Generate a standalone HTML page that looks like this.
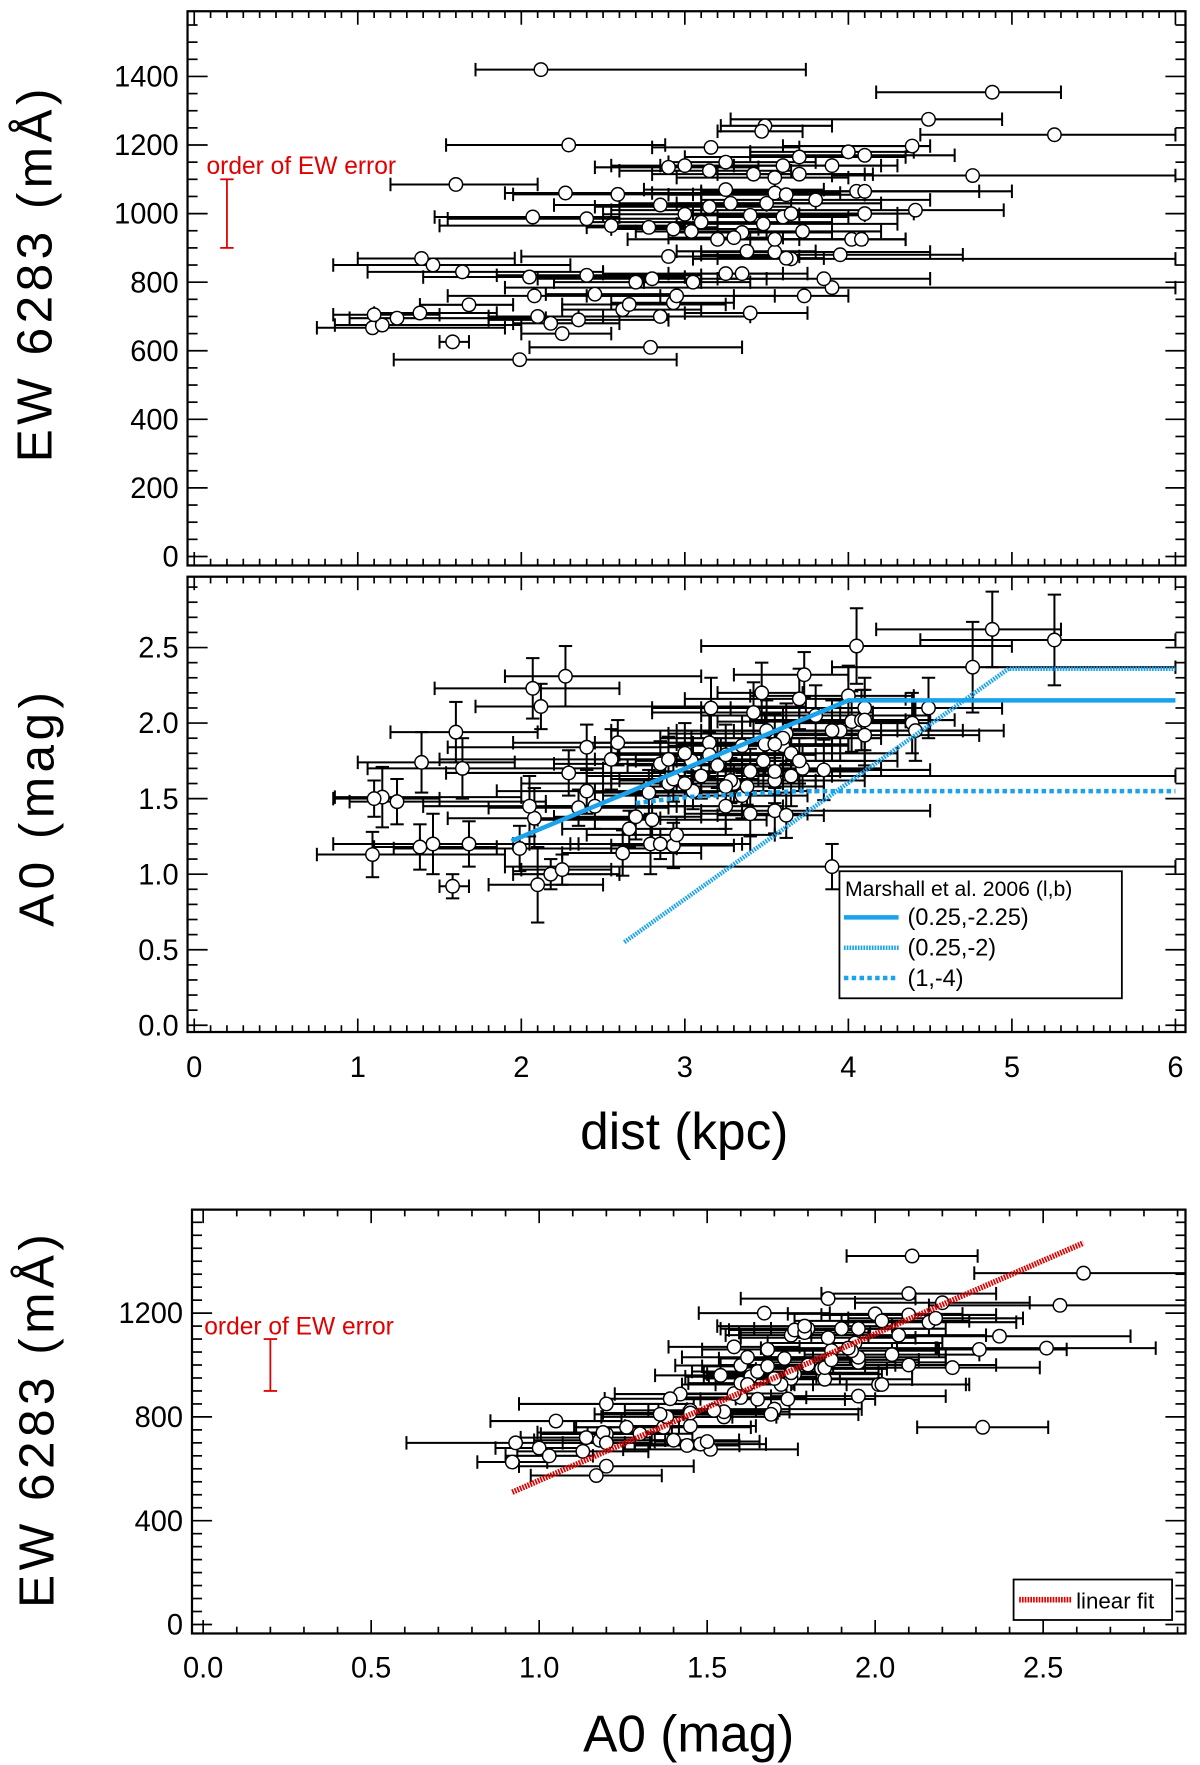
<!DOCTYPE html>
<html><head><meta charset="utf-8">
<style>
html,body{margin:0;padding:0;background:#fff;}
svg{display:block;}
text{font-family:"Liberation Sans",sans-serif;}
</style></head>
<body>
<svg id="fig" xmlns="http://www.w3.org/2000/svg" width="1200" height="1765" viewBox="0 0 1075 1570" preserveAspectRatio="none">
<rect x="0" y="0" width="1075" height="1570" fill="#fff"/>
<defs>
<clipPath id="cT"><rect x="168" y="10" width="894" height="493"/></clipPath>
<clipPath id="cM"><rect x="168" y="513" width="894" height="405"/></clipPath>
<clipPath id="cB"><rect x="172" y="1076" width="890" height="377"/></clipPath>
</defs>
<g id="topPanel"></g>
<g id="midPanel"></g>
<g id="botPanel"></g>
<text x="0" y="0" font-size="44" letter-spacing="4" text-anchor="middle" transform="translate(46,243) rotate(-90)">EW 6283 (mÅ)</text>
<text x="0" y="0" font-size="44" letter-spacing="4" text-anchor="middle" transform="translate(48,718) rotate(-90)">A0 (mag)</text>
<text x="613" y="1022" font-size="46" text-anchor="middle">dist (kpc)</text>
<text x="0" y="0" font-size="44" letter-spacing="4" text-anchor="middle" transform="translate(48,1262) rotate(-90)">EW 6283 (mÅ)</text>
<text x="617" y="1558" font-size="46" text-anchor="middle">A0 (mag)</text>
</svg>
<script>
const dist=[2.12,4.88,4.49,5.26,2.29,3.16,3.49,3.47,4.39,4.76,1.60,4.05,2.59,2.07,1.39,1.46,1.64,3.90,1.58,1.99,2.79,1.09,1.15,1.24,1.68,1.38,2.10,2.18,2.25,2.08,2.45,2.62,2.93,2.95,3.40,2.70,2.80,3.05,2.40,3.25,3.35,3.85,2.05,3.55,3.95,2.90,3.38,3.65,3.62,4.02,4.08,4.41,4.10,2.40,2.55,2.78,2.93,3.04,3.35,3.20,3.30,3.55,3.72,3.48,3.60,3.10,3.00,3.40,3.65,3.28,3.50,3.80,2.85,3.15,3.55,3.62,4.10,3.25,3.42,3.70,3.90,3.60,3.00,2.90,3.15,3.25,3.70,4.10,4.00,3.55,2.27,3.73,1.10,2.35,2.66,2.85];
const distLo=[1.72,4.17,3.28,4.44,1.54,2.80,3.22,3.20,3.60,3.90,1.20,3.10,1.95,1.47,1.00,0.85,1.06,1.90,1.50,1.22,2.05,0.75,0.86,0.95,1.38,1.10,1.80,1.95,2.00,1.55,2.15,2.25,2.55,2.40,3.00,2.20,2.10,2.75,1.85,2.90,2.50,3.20,1.40,3.10,3.10,2.00,2.95,3.05,3.20,3.20,3.40,2.55,3.10,1.55,1.50,2.40,2.55,2.70,2.90,2.65,2.90,3.20,3.20,2.95,3.20,2.40,2.50,3.00,3.05,2.60,2.95,3.10,2.20,2.45,2.80,2.90,3.55,2.75,2.80,3.20,3.30,2.85,2.55,2.45,2.60,2.90,3.00,3.40,3.40,2.95,1.90,3.30,0.85,1.80,2.25,2.35];
const distHi=[3.74,5.30,4.94,6.00,2.88,3.70,3.90,3.72,4.50,6.00,2.10,5.00,3.05,2.60,1.96,2.30,2.50,6.00,1.68,2.95,3.35,1.90,2.00,2.15,1.95,1.85,2.50,2.60,2.55,2.85,2.95,3.10,3.30,3.55,3.75,3.10,3.50,3.40,3.10,3.60,3.75,4.50,3.00,4.50,4.70,3.70,3.80,6.00,3.85,4.35,4.35,4.95,4.40,3.00,3.00,3.20,3.45,3.50,3.90,3.70,3.60,4.10,4.20,4.30,4.00,3.90,3.70,4.10,4.30,3.80,4.20,4.50,3.50,3.65,3.95,4.10,4.80,3.85,4.15,4.10,4.30,4.20,3.60,3.45,3.65,3.80,4.35,4.65,4.40,4.00,3.10,4.00,1.50,2.90,3.25,3.40];
const a0=[2.11,2.62,2.10,2.55,1.67,2.10,1.86,2.20,2.00,2.37,1.94,2.51,1.87,2.23,1.74,1.20,1.70,1.05,0.92,1.17,1.20,1.13,1.51,1.48,1.20,1.18,0.93,1.00,1.03,1.37,1.45,1.14,1.19,1.26,1.40,1.38,1.36,1.55,1.55,1.45,1.52,1.69,1.45,1.42,1.95,1.60,1.58,1.65,1.39,2.01,2.02,1.95,2.10,1.84,1.76,1.54,1.63,1.75,1.85,1.72,1.60,1.62,1.70,1.75,1.85,1.65,1.60,1.68,1.80,1.62,1.95,2.05,1.73,1.87,1.68,1.93,1.92,1.58,2.07,1.75,1.95,1.90,1.80,1.76,1.79,1.79,2.16,2.02,2.18,1.86,2.31,2.32,1.50,1.44,1.30,1.20];
const a0Err=[0.15,0.25,0.20,0.30,0.15,0.20,0.20,0.20,0.20,0.30,0.20,0.25,0.15,0.20,0.20,0.20,0.20,0.15,0.08,0.15,0.20,0.15,0.20,0.15,0.15,0.15,0.25,0.10,0.10,0.20,0.15,0.15,0.15,0.12,0.15,0.15,0.15,0.12,0.15,0.15,0.15,0.20,0.20,0.15,0.20,0.15,0.12,0.20,0.15,0.20,0.20,0.20,0.20,0.15,0.20,0.15,0.15,0.20,0.20,0.15,0.12,0.15,0.15,0.20,0.20,0.15,0.15,0.15,0.20,0.15,0.20,0.20,0.15,0.20,0.15,0.20,0.20,0.15,0.20,0.15,0.20,0.20,0.20,0.15,0.15,0.20,0.20,0.20,0.20,0.20,0.20,0.15,0.12,0.12,0.12,0.10];
const ew=[1420,1354,1275,1230,1200,1193,1256,1240,1197,1111,1085,1065,1056,990,869,850,830,784,626,574,610,667,675,695,734,710,700,680,650,760,765,720,740,760,710,800,810,800,820,825,825,810,815,888,880,875,890,868,870,925,925,1010,1000,985,965,960,955,948,945,925,930,925,948,970,990,975,998,995,1000,1030,1030,1040,1025,1020,1060,1055,1065,1070,1115,1115,1140,1140,1140,1135,1125,1150,1165,1170,1180,1105,1060,760,705,690,735,700];
const distTicks=[0,1,2,3,4,5,6];
const ewTicksTop=[0,200,400,600,800,1000,1200,1400];
const a0TicksMid=[0.0,0.5,1.0,1.5,2.0,2.5];
const a0TicksBot=[0.0,0.5,1.0,1.5,2.0,2.5];
const ewTicksBot=[0,400,800,1200];
const marshallSolidX=[1.94,4.0,6.0], marshallSolidY=[1.22,2.15,2.15];
const marshallDotX=[2.63,4.98,6.0], marshallDotY=[0.55,2.36,2.36];
const marshallDashX=[2.7,3.0,3.7,6.0], marshallDashY=[1.47,1.51,1.55,1.55];
const fitSlope=565, fitIntercept=-10, fitRange=[0.92,2.62];
const ewErrBar=[900,1100], ewErrX=0.2;

const NS="http://www.w3.org/2000/svg";
const xT=d=>174+d*146.5, yT=e=>495-e*0.305;
const yM=a=>912-a*134.4;
const xB=a=>182+a*301, yB=e=>1445-e*0.2308;
function el(tag,attrs,parent){const e=document.createElementNS(NS,tag);for(const k in attrs)e.setAttribute(k,attrs[k]);parent.appendChild(e);return e;}
function ln(p,x1,y1,x2,y2,w,c){return el('line',{x1:x1,y1:y1,x2:x2,y2:y2,stroke:c||'#000','stroke-width':w||1.6},p);}

function frame(p,x0,y0,x1,y1,name){
  const r=el('rect',{x:x0,y:y0,width:x1-x0,height:y1-y0,fill:'none',stroke:'#000','stroke-width':2},p);
  
  
}
function xticks(p,f,lo,hi,step,major,y0,y1){
  const n=Math.round((hi-lo)/step);
  for(let i=0;i<=n;i++){const v=lo+i*step;const X=f(v);const isM=Math.abs(v/major-Math.round(v/major))<1e-6;const L=isM?12:6;
    ln(p,X,y1,X,y1-L,1.5);ln(p,X,y0,X,y0+L,1.5);}
}
function yticks(p,f,lo,hi,step,major,x0,x1){
  const n=Math.round((hi-lo)/step);
  for(let i=0;i<=n;i++){const v=lo+i*step;const Y=f(v);const isM=Math.abs(v/major-Math.round(v/major))<1e-6;const L=isM?18:9;
    ln(p,x0,Y,x0+L,Y,1.5);ln(p,x1,Y,x1-L,Y,1.5);}
}
function lab(p,x,y,t,anchor,name){const e=el('text',{x:x,y:y,'font-size':26,'text-anchor':anchor},p);e.textContent=t;
  
  
  return e;}
function hbar(p,x1,x2,y){ln(p,x1,y,x2,y,1.8);ln(p,x1,y-6,x1,y+6,1.8);ln(p,x2,y-6,x2,y+6,1.8);}
function vbar(p,x,y1,y2){ln(p,x,y1,x,y2,1.8);ln(p,x-6,y1,x+6,y1,1.8);ln(p,x-6,y2,x+6,y2,1.8);}
function marker(p,x,y,name){const c=el('circle',{cx:x,cy:y,r:6,fill:'#fff',stroke:'#000','stroke-width':1.3},p);
  
  }

// TOP PANEL
const topP=document.getElementById('topPanel');
frame(topP,168,10,1062,503,'top-plot-frame');
xticks(topP,xT,0,6,0.1,1,10,503);
yticks(topP,yT,0,1550,50,200,168,1062);
ewTicksTop.forEach(v=>lab(topP,160,yT(v)+9,String(v),'end','top-y-tick-label'));
const gT=el('g',{'clip-path':'url(#cT)'},topP);


for(let i=0;i<dist.length;i++){hbar(gT,xT(distLo[i]),xT(Math.min(distHi[i],6.1)),yT(ew[i]));}
for(let i=0;i<dist.length;i++){marker(gT,xT(dist[i]),yT(ew[i]),'top-star-point');}
const t1=el('text',{x:185,y:155,'font-size':22,fill:'#e00000'},topP);t1.textContent='order of EW error';


const eb1=el('g',{},topP);


(function(){const X=xT(ewErrX);ln(eb1,X,yT(ewErrBar[0]),X,yT(ewErrBar[1]),1.6,'#e00000');ln(eb1,X-6,yT(ewErrBar[0]),X+6,yT(ewErrBar[0]),1.6,'#e00000');ln(eb1,X-6,yT(ewErrBar[1]),X+6,yT(ewErrBar[1]),1.6,'#e00000');})();

// MIDDLE PANEL
const midP=document.getElementById('midPanel');
frame(midP,168,513,1062,918,'mid-plot-frame');
xticks(midP,xT,0,6,0.1,1,513,918);
yticks(midP,yM,0,2.9,0.1,0.5,168,1062);
a0TicksMid.forEach(v=>lab(midP,160,yM(v)+9,v.toFixed(1),'end','mid-y-tick-label'));
distTicks.forEach(v=>lab(midP,xT(v),958,String(v),'middle','dist-tick-label'));
const gM=el('g',{'clip-path':'url(#cM)'},midP);


for(let i=0;i<dist.length;i++){hbar(gM,xT(distLo[i]),xT(Math.min(distHi[i],6.1)),yM(a0[i]));vbar(gM,xT(dist[i]),yM(a0[i]-a0Err[i]),yM(a0[i]+a0Err[i]));}
for(let i=0;i<dist.length;i++){marker(gM,xT(dist[i]),yM(a0[i]),'mid-star-point');}
function poly(p,xs,ys,dash,name){const pts=xs.map((x,i)=>xT(x)+','+yM(ys[i])).join(' ');
  const a={points:pts,fill:'none',stroke:'#1aa3ec','stroke-width':4};if(dash)a['stroke-dasharray']=dash;const e=el('polyline',a,p);
  
  }
poly(midP,marshallSolidX,marshallSolidY,null,'marshall-line-0.25-2.25');
poly(midP,marshallDotX,marshallDotY,'1.5,1','marshall-line-0.25-2');
poly(midP,marshallDashX,marshallDashY,'4,3','marshall-line-1-4');
const lg=el('g',{},midP);


el('rect',{x:752,y:775,width:253,height:113,fill:'#fff',stroke:'#000','stroke-width':1.6},lg);
const lt=el('text',{x:757,y:797,'font-size':19},lg);lt.textContent='Marshall et al. 2006 (l,b)';
[['(0.25,-2.25)',null],['(0.25,-2)','1.5,1'],['(1,-4)','4,3']].forEach((d,i)=>{const y=816+i*27;
  const a={x1:756,y1:y,x2:805,y2:y,stroke:'#1aa3ec','stroke-width':4};if(d[1])a['stroke-dasharray']=d[1];
  const l=el('line',a,lg);
  
  
  const t=el('text',{x:813,y:y+7,'font-size':21},lg);t.textContent=d[0];
  
  });

// BOTTOM PANEL
const botP=document.getElementById('botPanel');
frame(botP,172,1076,1062,1453,'bottom-plot-frame');
xticks(botP,xB,0,2.9,0.1,0.5,1076,1453);
yticks(botP,yB,0,1600,50,400,172,1062);
ewTicksBot.forEach(v=>lab(botP,164,yB(v)+9,String(v),'end','bottom-y-tick-label'));
a0TicksBot.forEach(v=>lab(botP,xB(v),1492,v.toFixed(1),'middle','a0-tick-label'));
const gB=el('g',{'clip-path':'url(#cB)'},botP);


for(let i=0;i<a0.length;i++){hbar(gB,xB(a0[i]-a0Err[i]*1.3),xB(a0[i]+a0Err[i]*1.3),yB(ew[i]));}
for(let i=0;i<a0.length;i++){marker(gB,xB(a0[i]),yB(ew[i]),'bottom-star-point');}
const fit=el('line',{x1:xB(fitRange[0]),y1:yB(fitSlope*fitRange[0]+fitIntercept),x2:xB(fitRange[1]),y2:yB(fitSlope*fitRange[1]+fitIntercept),stroke:'#e00000','stroke-width':5,'stroke-dasharray':'1.5,1'},botP);


const t2=el('text',{x:183,y:1187,'font-size':22,fill:'#e00000'},botP);t2.textContent='order of EW error';


const eb2=el('g',{},botP);


(function(){const X=xB(ewErrX);ln(eb2,X,yB(ewErrBar[0]),X,yB(ewErrBar[1]),1.6,'#e00000');ln(eb2,X-6,yB(ewErrBar[0]),X+6,yB(ewErrBar[0]),1.6,'#e00000');ln(eb2,X-6,yB(ewErrBar[1]),X+6,yB(ewErrBar[1]),1.6,'#e00000');})();
const lg2=el('g',{},botP);


el('rect',{x:908,y:1405,width:142,height:36,fill:'#fff',stroke:'#000','stroke-width':1.6},lg2);
el('line',{x1:913,y1:1423,x2:960,y2:1423,stroke:'#e00000','stroke-width':5,'stroke-dasharray':'1.5,1'},lg2);
const t3=el('text',{x:964,y:1431,'font-size':20},lg2);t3.textContent='linear fit';


</script>
</body></html>
